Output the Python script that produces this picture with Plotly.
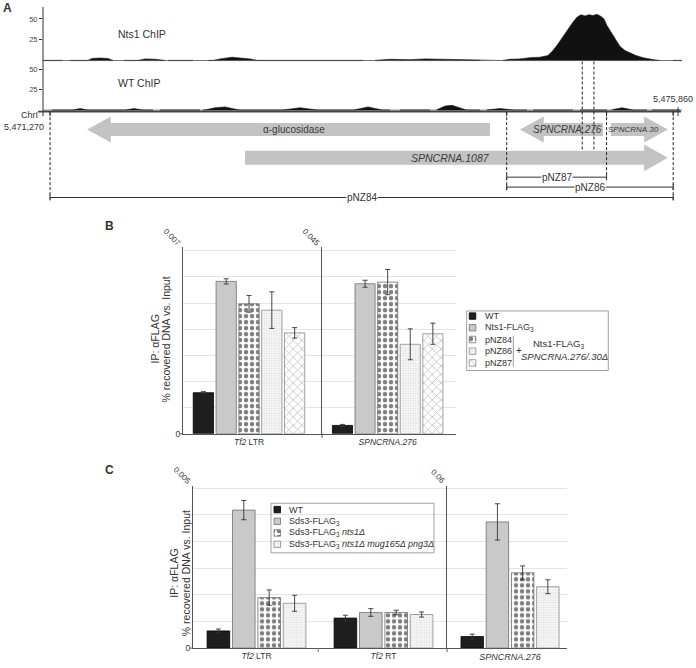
import plotly.graph_objects as go

W, H = 696, 668
def px(x): return x / W
def py(y): return 1 - y / H

FONT = "Liberation Sans, Arial, sans-serif"
TXT = "#333333"

# ---------------- Panel A data (positions = bp offset from 5,471,270) ----------------
CHR_NAME = "ChrI"
CHR_START_LABEL = "5,471,270"
CHR_END_LABEL = "5,475,860"
TRACK_NAMES = ["Nts1 ChIP", "WT ChIP"]
TRACK_TICKS = [25, 50]

nts1_pos = [-52, 280, 309, 368, 427, 464, 648, 700, 774, 847, 1201, 1253, 1341, 1400, 1474, 1525,
            2395, 2505, 2652, 2763, 2874, 3021, 3168, 3338, 3389, 3463, 3537, 3610, 3669, 3706,
            3743, 3780, 3817, 3853, 3883, 3912, 3942, 3971, 4001, 4030, 4060, 4082, 4104, 4134,
            4163, 4200, 4237, 4273, 4318, 4369, 4421, 4480, 4657]
nts1_val = [0, 0, 2.5, 3, 2.5, 0, 0, 2, 1.5, 0, 0, 2, 4, 3, 2, 0,
            0, 1.5, 1, 2, 1.5, 1, 0, 0, 1.5, 2, 3.5, 4, 6, 12,
            20, 29, 38, 46, 52, 55, 53.5, 55, 54, 55.5, 53, 50, 42, 34,
            26, 17, 12, 9.5, 6, 3.5, 2, 0, 0]
nts1_base_start = [-52, 147, 545, 869, 1164, 2395, 3338, 4590]
nts1_base_end = [88, 464, 847, 1054, 2306, 3168, 4494, 4657]

wt_pos = [-52, 162, 221, 280, 553, 619, 685, 1135, 1216, 1289, 1400, 1709, 1842, 1975,
          2232, 2343, 2453, 2844, 2910, 2962, 3072, 3205, 3316, 3426, 4126, 4215, 4303, 4657]
wt_val = [0, 0, 2, 0, 0, 2, 0, 0, 3, 4, 0, 0, 3, 0,
          0, 4, 0, 0, 5, 6, 0, 0, 2, 0, 0, 3, 0, 0]
wt_base_start = [15, 810, 1127, 2579, 2851, 3220, 3559, 3905, 4148, 4436]
wt_base_end = [759, 1105, 2505, 2800, 3168, 3515, 3853, 4104, 4399, 4642]

gene_names = ["α-glucosidase", "<i>SPNCRNA.1087</i>", "<i>SPNCRNA.276</i>", "<i>SPNCRNA.30</i>"]
gene_start = [273, 1437, 3463, 4133]
gene_end = [3242, 4553, 4075, 4553]
gene_strand = ["-", "+", "-", "+"]
gene_row = [0, 1, 0, 0]
gene_font = [10, 10.5, 10, 8]

plasmid_names = ["pNZ87", "pNZ86", "pNZ84"]
plasmid_start = [3365, 3365, 0]
plasmid_end = [4101, 4592, 4592]
amplicon_bounds = [3922, 4008]

# ---------------- Panel B data ----------------
B_targets = ["Tf2 LTR", "SPNCRNA.276"]
B_strains = ["WT", "Nts1-FLAG<sub>3</sub>", "pNZ84", "pNZ86", "pNZ87"]
B_tf2 = [0.00157, 0.00583, 0.00497, 0.00473, 0.00386]
B_tf2_err = [0.00004, 0.0001, 0.00032, 0.0007, 0.0002]
B_spn = [0.00204, 0.0369, 0.0373, 0.0220, 0.0246]
B_spn_err = [0.00025, 0.00086, 0.0031, 0.0038, 0.0026]
B_max = [0.007, 0.045]

# ---------------- Panel C data ----------------
C_targets = ["Tf2 LTR", "Tf2 RT", "SPNCRNA.276"]
C_strains = ["WT", "Sds3-FLAG<sub>3</sub>", "Sds3-FLAG<sub>3</sub> <i>nts1Δ</i>",
             "Sds3-FLAG<sub>3</sub> <i>nts1Δ mug165Δ png3Δ</i>"]
C_tf2ltr = [0.000536, 0.00431, 0.001577, 0.0014]
C_tf2ltr_err = [0.00006, 0.0003, 0.00024, 0.00025]
C_tf2rt = [0.000938, 0.001113, 0.001113, 0.00105]
C_tf2rt_err = [0.00009, 0.00012, 0.00007, 0.00008]
C_spn = [0.00433, 0.0473, 0.0282, 0.0230]
C_spn_err = [0.0009, 0.0068, 0.0026, 0.0026]
C_max = [0.005, 0.06]

# ---------------- styles ----------------
STY = {
    "black": dict(color="#1e1e1e", line=dict(color="#000000", width=0.8)),
    "gray": dict(color="#c9c9c9", line=dict(color="#707070", width=0.8)),
    "dots": dict(color="white", line=dict(color="#707070", width=0.8),
                 pattern=dict(shape=".", fgcolor="#000000", bgcolor="white", size=6, solidity=0.45)),
    "fine": dict(color="white", line=dict(color="#8a8a8a", width=0.8),
                 pattern=dict(shape=".", fgcolor="#c4c4c4", bgcolor="white", size=2.5, solidity=0.5)),
    "cross": dict(color="white", line=dict(color="#8a8a8a", width=0.8),
                  pattern=dict(shape="x", fgcolor="#808080", bgcolor="white", size=6, solidity=0.25)),
}
B_styles = ["black", "gray", "dots", "fine", "cross"]
C_styles = ["black", "gray", "dots", "fine"]

fig = go.Figure()

# ---------------- Panel A ----------------
def segs(starts, ends, level):
    xs, ys = [], []
    for s, e in zip(starts, ends):
        xs += [s, e, None]
        ys += [level, level, None]
    return xs, ys

bx, by = segs(nts1_base_start, nts1_base_end, 0)
fig.add_trace(go.Scatter(x=bx, y=by, mode="lines", line=dict(color="#a0a0a0", width=1.6),
                         xaxis="x", yaxis="y", hoverinfo="skip"))
fig.add_trace(go.Scatter(x=nts1_pos, y=nts1_val, mode="lines", fill="tozeroy",
                         fillcolor="#111111", line=dict(color="#111111", width=0.6),
                         xaxis="x", yaxis="y", hoverinfo="skip"))
bx, by = segs(wt_base_start, wt_base_end, 0)
fig.add_trace(go.Scatter(x=bx, y=by, mode="lines", line=dict(color="#a0a0a0", width=2.4),
                         xaxis="x", yaxis="y2", hoverinfo="skip"))
fig.add_trace(go.Scatter(x=wt_pos, y=wt_val, mode="lines", fill="tozeroy",
                         fillcolor="#111111", line=dict(color="#111111", width=0.6),
                         xaxis="x", yaxis="y2", hoverinfo="skip"))

shapes = []
annotations = []

def ann(x, y, text, size=9, xanchor="center", yanchor="middle", angle=0, color=TXT, **kw):
    annotations.append(dict(x=px(x), y=py(y), xref="paper", yref="paper", text=text,
                            showarrow=False, font=dict(family=FONT, size=size, color=color),
                            xanchor=xanchor, yanchor=yanchor, textangle=angle, **kw))

def pline(x0, y0, x1, y1, color="#333333", width=1, dash="solid"):
    shapes.append(dict(type="line", xref="paper", yref="paper", x0=px(x0), y0=py(y0),
                       x1=px(x1), y1=py(y1), line=dict(color=color, width=width, dash=dash)))

def dline(xv, y0, y1, color="#222222", width=1, dash="3px,2px"):
    shapes.append(dict(type="line", xref="x", yref="paper", x0=xv, x1=xv, y0=py(y0), y1=py(y1),
                       line=dict(color=color, width=width, dash=dash)))

# genome frame
pline(43, 7, 43, 117, width=1)
pline(38, 112.5, 681, 112.5, color="#444444", width=1.6)
for xv in [0, plasmid_start[0], plasmid_end[0], plasmid_end[1]]:
    shapes.append(dict(type="line", xref="x", yref="paper", x0=xv, x1=xv, y0=py(112), y1=py(117),
                       line=dict(color="#333333", width=1)))
shapes.append(dict(type="line", xref="x", yref="paper", x0=4628, x1=4628, y0=py(108), y1=py(117),
                   line=dict(color="#333333", width=1)))

# dashed boundaries
dline(plasmid_start[2], 113, 201)
dline(plasmid_start[0], 113, 192)
dline(plasmid_end[0], 113, 182)
dline(plasmid_end[1], 113, 202)
for a in amplicon_bounds:
    dline(a, 62, 152)

# gene arrows
HL = 175  # head length in bp
rows = {0: (130.5, 6.5, 13), 1: (159, 7, 13.5)}
for name, s, e, strand, row, fs in zip(gene_names, gene_start, gene_end, gene_strand, gene_row, gene_font):
    yc, bh, hh = rows[row]
    bt, bb, ht, hb, c = py(yc - bh), py(yc + bh), py(yc - hh), py(yc + hh), py(yc)
    if strand == "+":
        k = e - HL
        path = f"M{s},{bt} L{k},{bt} L{k},{ht} L{e},{c} L{k},{hb} L{k},{bb} L{s},{bb} Z"
        lx = (s + k) / 2 * 0.5 + (s + e) / 2 * 0.5
    else:
        k = s + HL
        path = f"M{e},{bt} L{k},{bt} L{k},{ht} L{s},{c} L{k},{hb} L{k},{bb} L{e},{bb} Z"
        lx = (k + e) / 2 * 0.5 + (s + e) / 2 * 0.5
    shapes.append(dict(type="path", xref="x", yref="paper", path=path, fillcolor="#c3c3c3",
                       line=dict(width=0), layer="below"))
    annotations.append(dict(x=lx, y=py(yc), xref="x", yref="paper", text=name, showarrow=False,
                            xanchor="center", yanchor="middle",
                            font=dict(family=FONT, size=fs, color="#3a3a3a")))

# plasmid ranges
prow = [178.5, 188.5, 199]
for name, s, e, yy in zip(plasmid_names, plasmid_start, plasmid_end, prow):
    shapes.append(dict(type="line", xref="x", yref="paper", x0=s, x1=e, y0=py(yy), y1=py(yy),
                       line=dict(color="#333333", width=1)))
    for xv in (s, e):
        shapes.append(dict(type="line", xref="x", yref="paper", x0=xv, x1=xv, y0=py(yy - 3), y1=py(yy + 3),
                           line=dict(color="#333333", width=1)))
    annotations.append(dict(x=(s + e) / 2, y=py(yy), xref="x", yref="paper", text=name, showarrow=False,
                            xanchor="center", yanchor="middle", bgcolor="white", borderpad=0,
                            font=dict(family=FONT, size=10, color=TXT)))

ann(116, 34, TRACK_NAMES[0], size=10.5, xanchor="left")
ann(116, 84, TRACK_NAMES[1], size=10.5, xanchor="left")
ann(40, 116, CHR_NAME, size=9, xanchor="right")
ann(45.5, 127.5, CHR_START_LABEL, size=9, xanchor="right")
ann(695, 99.5, CHR_END_LABEL, size=9, xanchor="right")
ann(1, 8, "<b>A</b>", size=12, xanchor="left")
ann(103, 228, "<b>B</b>", size=12, xanchor="left")
ann(103, 474, "<b>C</b>", size=12, xanchor="left")

# ---------------- Panel B bars ----------------
for i, (nm, st) in enumerate(zip(B_strains, B_styles)):
    eb = dict(type="data", color="#333333", thickness=0.9, width=2.5)
    fig.add_trace(go.Bar(x=[B_targets[0]], y=[B_tf2[i]], error_y=dict(array=[B_tf2_err[i]], **eb),
                         marker=STY[st], xaxis="x3", yaxis="y3", name=nm))
    fig.add_trace(go.Bar(x=[B_targets[1]], y=[B_spn[i]], error_y=dict(array=[B_spn_err[i]], **eb),
                         marker=STY[st], xaxis="x4", yaxis="y4", name=nm))

# ---------------- Panel C bars ----------------
for i, (nm, st) in enumerate(zip(C_strains, C_styles)):
    eb = dict(type="data", color="#333333", thickness=0.9, width=2.5)
    fig.add_trace(go.Bar(x=C_targets[:2], y=[C_tf2ltr[i], C_tf2rt[i]],
                         error_y=dict(array=[C_tf2ltr_err[i], C_tf2rt_err[i]], **eb),
                         marker=STY[st], xaxis="x5", yaxis="y5", name=nm))
    fig.add_trace(go.Bar(x=[C_targets[2]], y=[C_spn[i]], error_y=dict(array=[C_spn_err[i]], **eb),
                         marker=STY[st], xaxis="x6", yaxis="y6", name=nm))

# ---------------- manual legends (pixel overlay axis) ----------------
def swatch(x0, ytop, st, w=6.5, h=6.5):
    fig.add_trace(go.Bar(orientation="h", y=[ytop], x=[w], base=[x0], width=[h], offset=0,
                         marker=STY[st], xaxis="x7", yaxis="y7", hoverinfo="skip"))

B_leg_y = [318.5, 330.3, 342.1, 353.9, 365.7]
for yy, nm, st in zip(B_leg_y, B_strains, B_styles):
    swatch(469.3, yy - 3.3, st)
    ann(482.5, yy, nm, size=9, xanchor="left")
shapes.append(dict(type="rect", xref="paper", yref="paper", x0=px(466.7), x1=px(608.3),
                   y0=py(313.3), y1=py(373.3), line=dict(color="#888888", width=0.8)))
pline(513.3, 338.5, 513.3, 369.5, color="#999999", width=1)
ann(518.5, 353.5, "+", size=10)
ann(559, 346.5, "Nts1-FLAG<sub>3</sub>", size=9.5)
ann(564, 359.5, "<i>SPNCRNA.276/.30Δ</i>", size=9.5)

C_leg_y = [513.5, 525.3, 537, 548.5]
for yy, nm, st in zip(C_leg_y, C_strains, C_styles):
    swatch(274, yy - 3.3, st)
    ann(286.7, yy, nm, size=9, xanchor="left")
shapes.append(dict(type="rect", xref="paper", yref="paper", x0=px(271), x1=px(434),
                   y0=py(507), y1=py(557), line=dict(color="#888888", width=0.8)))

# ---------------- axis titles / labels ----------------
ann(155, 342, "IP: αFLAG", size=10.5, angle=-90)
ann(166, 342, "% recovered DNA vs. Input", size=10.5, angle=-90)
ann(174, 578, "IP: αFLAG", size=10.5, angle=-90)
ann(185.5, 578, "% recovered DNA vs. Input", size=10.5, angle=-90)
ann(172, 239, "0.007", size=8, angle=45)
ann(311, 239, "0.045", size=8, angle=45)
ann(182, 479, "0.005", size=8, angle=45)
ann(438, 480, "0.06", size=8, angle=45)
pline(179.5, 437, 183, 437, color="#555555")
pline(189.5, 653, 193, 653, color="#555555")
pline(318.3, 653, 318.3, 657, color="#777777")
pline(322, 437, 322, 441, color="#555555")
pline(447, 653, 447, 657, color="#555555")

# ---------------- layout ----------------
def grid_vals(top, n):
    return [top * k / n for k in range(n + 1)]

gy = dict(showgrid=True, gridcolor="#e4e4e4", gridwidth=1, zeroline=False, showline=True,
          linecolor="#555555", linewidth=1, ticks="", tickfont=dict(family=FONT, size=8.5, color=TXT))
gx = dict(showgrid=False, zeroline=False, showline=True, linecolor="#555555", linewidth=1,
          ticks="", type="category")
ty = dict(showgrid=False, zeroline=False, showline=False, ticks="outside", ticklen=3, tickwidth=1,
          tickcolor="#333333", tickvals=TRACK_TICKS, tickfont=dict(family=FONT, size=7.5, color="#444444"))

fig.update_layout(
    width=W, height=H, margin=dict(l=0, r=0, t=0, b=0),
    paper_bgcolor="white", plot_bgcolor="rgba(0,0,0,0)",
    showlegend=False, barmode="group", bargap=0.2, bargroupgap=0.11,
    font=dict(family=FONT, color=TXT),
    xaxis=dict(domain=[px(43), px(682)], range=[-52, 4657], visible=False, anchor="y2"),
    yaxis=dict(domain=[py(62), py(6)], range=[-1.19, 65.5], anchor="x", **ty),
    yaxis2=dict(domain=[py(113), py(62)], range=[-2.44, 59.8], anchor="x", **ty),
    xaxis3=dict(domain=[px(183), px(322)], range=[-0.463, 0.512], anchor="y3",
                tickvals=[B_targets[0]], ticktext=["<i>Tf2</i> LTR"],
                tickfont=dict(family=FONT, size=8.5, color=TXT), **gx),
    yaxis3=dict(domain=[py(437), py(249)], range=[0, B_max[0] * 188 / 184.3], anchor="x3",
                tickvals=grid_vals(B_max[0], 7), ticktext=["0"] + [""] * 7, **gy),
    xaxis4=dict(domain=[px(322), px(456)], range=[-0.465, 0.484], anchor="y4",
                tickvals=[B_targets[1]], ticktext=["<i>SPNCRNA.276</i>"],
                tickfont=dict(family=FONT, size=8.5, color=TXT), **gx),
    yaxis4=dict(domain=[py(437), py(249)], range=[0, B_max[1] * 188 / 184.3], anchor="x4",
                tickvals=grid_vals(B_max[1], 7), showticklabels=False, **gy),
    xaxis5=dict(domain=[px(193), px(447)], range=[-0.5, 1.5], anchor="y5",
                tickvals=C_targets[:2], ticktext=["<i>Tf2</i> LTR", "<i>Tf2</i> RT"],
                tickfont=dict(family=FONT, size=8.5, color=TXT), **gx),
    yaxis5=dict(domain=[py(653), py(490)], range=[0, C_max[0] * 163 / 161.3], anchor="x5",
                tickvals=grid_vals(C_max[0], 6), ticktext=["0"] + [""] * 6, **gy),
    xaxis6=dict(domain=[px(447), px(567)], range=[-0.5, 0.452], anchor="y6",
                tickvals=[C_targets[2]], ticktext=["<i>SPNCRNA.276</i>"],
                tickfont=dict(family=FONT, size=9, color=TXT), **gx),
    yaxis6=dict(domain=[py(653), py(490)], range=[0, C_max[1] * 163 / 161.3], anchor="x6",
                tickvals=grid_vals(C_max[1], 6), showticklabels=False, **gy),
    xaxis7=dict(domain=[0, 1], range=[0, W], visible=False, anchor="y7"),
    yaxis7=dict(domain=[0, 1], range=[H, 0], visible=False, anchor="x7"),
    shapes=shapes, annotations=annotations,
)

fig.write_html("out.html", config={"displayModeBar": False},
               post_script="document.body.style.margin='0px';document.body.style.padding='0px';")
